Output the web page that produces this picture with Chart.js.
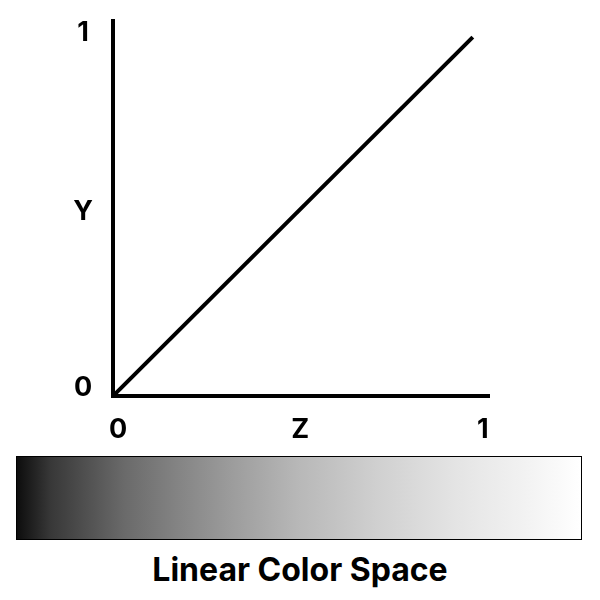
<!DOCTYPE html>
<html>
<head>
<meta charset="utf-8">
<script src="https://cdn.jsdelivr.net/npm/chart.js@4"></script>
<style>
  body { margin: 0; background: #fff; }
  #wrap { position: relative; width: 600px; height: 600px; }
  #chartBox { position: absolute; left: 0; top: 0; width: 600px; height: 445px; }
  #ramp {
    position: absolute; left: 16px; top: 456px; width: 564px; height: 82px;
    border: 1px solid #000;
    background: linear-gradient(to right, #0d0d0d 0%, #383838 6%, #6a6a6a 19%, #858585 29%,
      #9c9c9c 38%, #b8b8b8 50%, #d0d0d0 64%, #e3e3e3 77%, #f2f2f2 90%, #fff 100%);
  }
  #caption {
    position: absolute; left: 0; top: 550px; width: 600px; text-align: center;
    font-family: Inter, sans-serif; font-weight: 700; font-size: 32px; color: #000;
  }
</style>
</head>
<body>
<div id="wrap">
  <div id="chartBox"><canvas id="lin"></canvas></div>
  <div id="ramp"></div>
  <div id="caption">Linear Color Space</div>
</div>
<script>
// values
var linePoints = [{x: 0, y: 0}, {x: 1, y: 1}];
var xTickLabels = ['0', 'Z', '1'];
var xTickValues = [0.014, 0.52, 1.028];
var yTickLabels = ['0', 'Y', '1'];
var yTickValues = [0.022, 0.512, 1.011];

var tickFont = {family: 'Inter, sans-serif', size: 27, weight: '700'};

function noEdgePadding(axis) {
    axis.paddingTop = 0;
    axis.paddingBottom = 0;
    axis.paddingLeft = 0;
    axis.paddingRight = 0;
}

var ctx = document.getElementById('lin').getContext('2d');
var linChart = new Chart(ctx, {
    type: 'scatter',
    data: {
        datasets: [{
            data: linePoints,
            showLine: true,
            borderColor: '#000',
            borderWidth: 4,
            pointRadius: 0,
            fill: false
        }]
    },
    options: {
        responsive: true,
        maintainAspectRatio: false,
        animation: false,
        layout: {padding: {left: 0, top: 21, right: 111, bottom: 0}},
        plugins: {legend: {display: false}, tooltip: {enabled: false}},
        scales: {
            x: {
                type: 'linear', min: 0, max: 1.045,
                grid: {display: false, drawTicks: false},
                border: {display: true, color: '#000', width: 4},
                afterBuildTicks: function (axis) {
                    axis.ticks = xTickValues.map(function (v) { return {value: v}; });
                },
                afterFit: function (axis) { axis.height = 49; noEdgePadding(axis); },
                ticks: {
                    color: '#000', font: tickFont, padding: 18, maxRotation: 0,
                    callback: function (v, i) { return xTickLabels[i]; }
                }
            },
            y: {
                type: 'linear', min: 0, max: 1.045,
                grid: {display: false, drawTicks: false},
                border: {display: true, color: '#000', width: 4},
                afterBuildTicks: function (axis) {
                    axis.ticks = yTickValues.map(function (v) { return {value: v}; });
                },
                afterFit: function (axis) { axis.width = 113; noEdgePadding(axis); },
                ticks: {
                    color: '#000', font: tickFont, padding: 20, crossAlign: 'center',
                    callback: function (v, i) { return yTickLabels[i]; }
                }
            }
        }
    }
});
</script>
</body>
</html>
